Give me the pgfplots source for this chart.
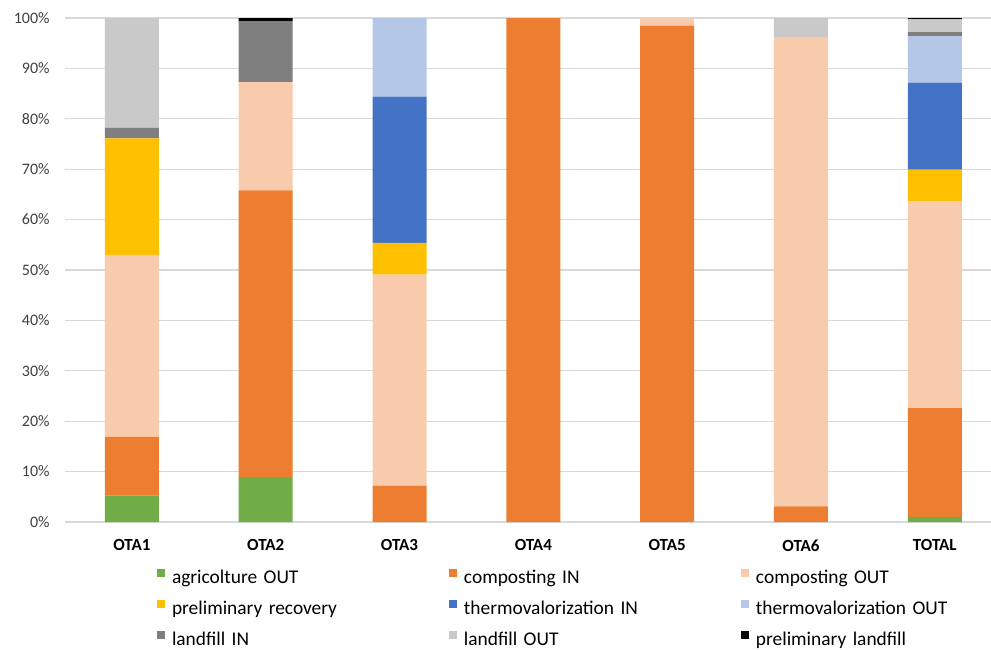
\documentclass[border=0pt]{standalone}
\usepackage{fontspec}
\setmainfont{Carlito}
\usepackage{pgfplots}
\pgfplotsset{compat=1.18}
\definecolor{cAgri}{HTML}{70AD47}
\definecolor{cCompIn}{HTML}{ED7D31}
\definecolor{cCompOut}{HTML}{F8CBAD}
\definecolor{cPrelim}{HTML}{FFC000}
\definecolor{cThermIn}{HTML}{4472C4}
\definecolor{cThermOut}{HTML}{B4C7E7}
\definecolor{cLandIn}{HTML}{7F7F7F}
\definecolor{cLandOut}{HTML}{C9C9C9}
\definecolor{cPrelimLand}{HTML}{000000}
\definecolor{gridgray}{HTML}{D9D9D9}
\definecolor{tickgray}{HTML}{404040}

\begin{document}
\begin{tikzpicture}
\begin{axis}[
    ybar stacked,
    scale only axis,
    width=463pt, height=252pt,
    xmin=-0.5, xmax=6.42,
    ymin=0, ymax=100,
    bar width=27pt,
    xtick={0,...,6},
    xticklabels={OTA1,OTA2,OTA3,OTA4,OTA5,OTA6,TOTAL},
    ytick={0,10,...,100},
    yticklabel={\pgfmathprintnumber{\tick}\%},
    /pgf/number format/assume math mode=true,
    axis line style={draw=none},
    major tick length=0pt,
    tick style={draw=none},
    ymajorgrids,
    major grid style={draw=gridgray, line width=0.6pt},
    yticklabel style={font=\fontsize{8}{9}\selectfont, text=tickgray,
                      inner sep=0pt, anchor=east, xshift=-7.5pt},
    xticklabel style={font=\fontsize{8.5}{10}\selectfont\bfseries,
                      inner sep=0pt, anchor=north, yshift=-8.5pt},
    legend columns=3,
    legend cell align=left,
    legend image code/.code={
        \path (0pt,0pt) (7.5pt,0pt);
        \fill[#1,draw=none] (0pt,0.5pt) rectangle (4pt,4.5pt);
    },
    legend style={
        at={(0,0)}, anchor=north west, xshift=46pt, yshift=-23.5pt,
        draw=none, fill=none, inner sep=0pt, outer sep=0pt,
        font=\fontsize{9.7}{12}\selectfont,
        row sep=6.5pt,
        nodes={inner sep=0pt, text height=7pt, text depth=2pt,
               text width=138.5pt, align=left},
    },
]
% agricolture OUT
\addplot[fill=cAgri, draw=none] coordinates
  {(0,5.3) (1,8.9) (2,0) (3,0) (4,0) (5,0) (6,1.0)};
% composting IN
\addplot[fill=cCompIn, draw=none] coordinates
  {(0,11.6) (1,56.9) (2,7.2) (3,100) (4,98.5) (5,3.1) (6,21.6)};
% composting OUT
\addplot[fill=cCompOut, draw=none] coordinates
  {(0,36.1) (1,21.5) (2,41.9) (3,0) (4,1.5) (5,93.1) (6,41.0)};
% preliminary recovery
\addplot[fill=cPrelim, draw=none] coordinates
  {(0,23.1) (1,0) (2,6.3) (3,0) (4,0) (5,0) (6,6.3)};
% thermovalorization IN
\addplot[fill=cThermIn, draw=none] coordinates
  {(0,0) (1,0) (2,29.0) (3,0) (4,0) (5,0) (6,17.3)};
% thermovalorization OUT
\addplot[fill=cThermOut, draw=none] coordinates
  {(0,0) (1,0) (2,15.6) (3,0) (4,0) (5,0) (6,9.2)};
% landfill IN
\addplot[fill=cLandIn, draw=none] coordinates
  {(0,2.1) (1,12.1) (2,0) (3,0) (4,0) (5,0) (6,0.8)};
% landfill OUT
\addplot[fill=cLandOut, draw=none] coordinates
  {(0,21.8) (1,0) (2,0) (3,0) (4,0) (5,3.8) (6,2.55)};
% preliminary landfill
\addplot[fill=cPrelimLand, draw=none] coordinates
  {(0,0) (1,0.6) (2,0) (3,0) (4,0) (5,0) (6,0.25)};
\legend{agricolture OUT, composting IN, composting OUT,
        preliminary recovery, thermovalorization IN, thermovalorization OUT,
        landfill IN, landfill OUT, preliminary landfill}
\end{axis}
\pgfresetboundingbox
\path[use as bounding box]
  ([xshift=-32.5pt,yshift=-63.5pt]current axis.south west)
  rectangle ([xshift=463pt,yshift=261pt]current axis.south west);
\end{tikzpicture}
\end{document}
